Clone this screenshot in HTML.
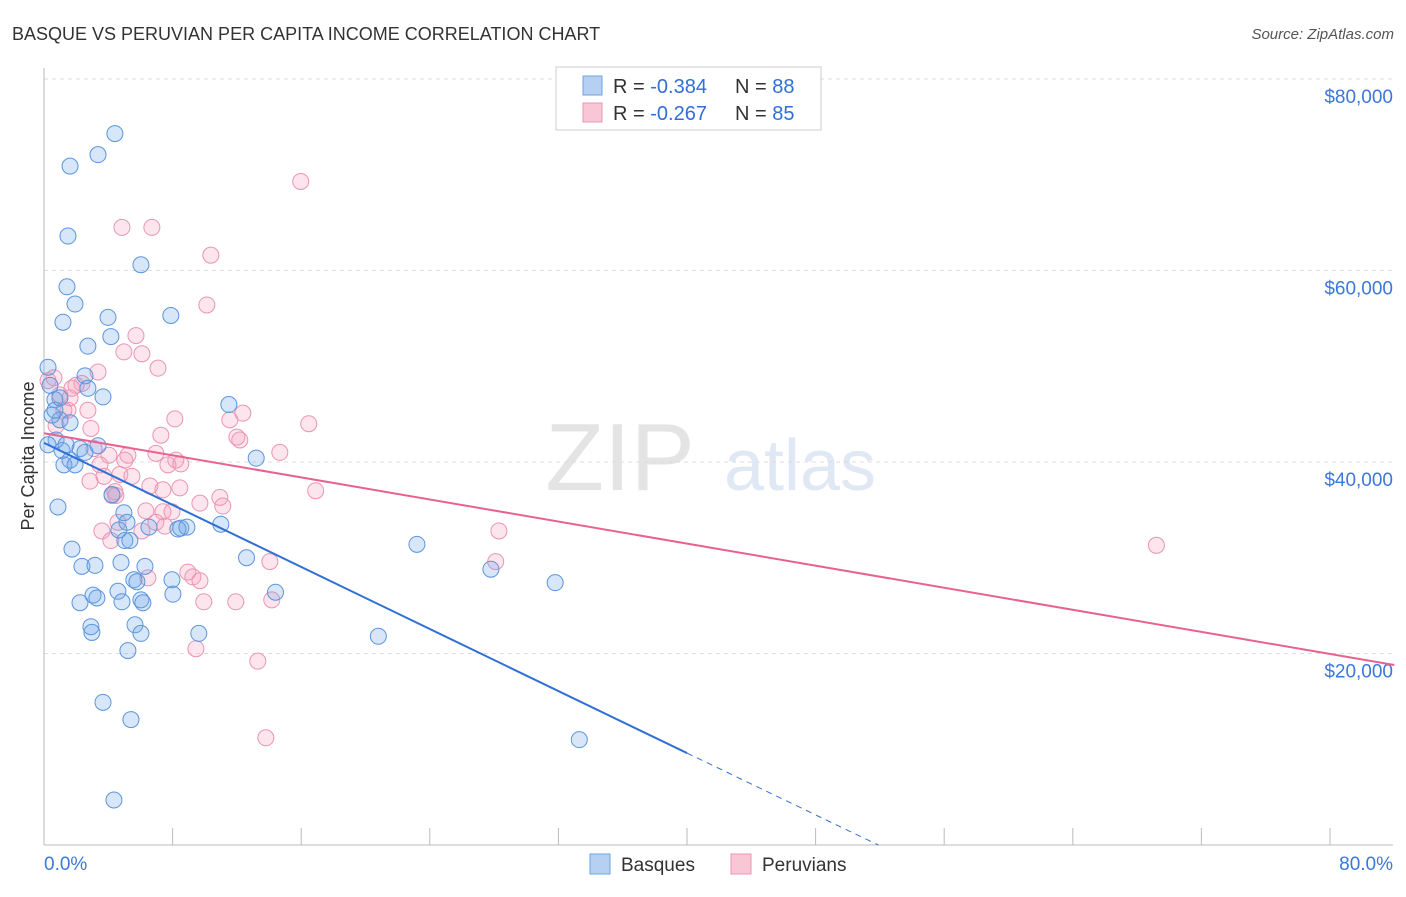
<!DOCTYPE html>
<html><head><meta charset="utf-8"><style>
body{margin:0;background:#fff;font-family:"Liberation Sans",sans-serif;}
svg text{font-family:"Liberation Sans",sans-serif;}
</style></head><body>
<svg id="chart" width="1406" height="892" xmlns="http://www.w3.org/2000/svg">
<text x="12" y="40" font-size="18" fill="#333">BASQUE VS PERUVIAN PER CAPITA INCOME CORRELATION CHART</text>
<text x="1394" y="39" font-size="15" fill="#555" text-anchor="end" font-style="italic">Source: ZipAtlas.com</text>
<text x="620" y="490" font-size="96" fill="#e4e4e4" font-family="Liberation Serif" text-anchor="middle">ZIP</text>
<text x="800" y="490" font-size="72" fill="#dfe8f4" text-anchor="middle">atlas</text>
<g id="grid"></g>
<g id="axes"></g>
<g id="points"></g>
<g id="lines"></g>
<text x="34" y="456" font-size="18" fill="#333" text-anchor="middle" transform="rotate(-90 34 456)">Per Capita Income</text>
<g>
<rect x="556" y="67" width="265" height="63" fill="#fff" stroke="#ccc"/>
<rect x="583" y="76" width="19" height="19" fill="#b5d0f2" stroke="#6fa3e0"/>
<rect x="583" y="103" width="19" height="19" fill="#f9c6d6" stroke="#ec94b2"/>
<text x="613" y="93" font-size="20" fill="#333">R = <tspan fill="#2f6fd6">-0.384</tspan></text>
<text x="735" y="93" font-size="20" fill="#333">N = <tspan fill="#2f6fd6">88</tspan></text>
<text x="613" y="120" font-size="20" fill="#333">R = <tspan fill="#2f6fd6">-0.267</tspan></text>
<text x="735" y="120" font-size="20" fill="#333">N = <tspan fill="#2f6fd6">85</tspan></text>
</g>
<g>
<rect x="590" y="854" width="20" height="20" fill="#b5d0f2" stroke="#6fa3e0"/>
<text x="621" y="871" font-size="19" fill="#333">Basques</text>
<rect x="731" y="854" width="20" height="20" fill="#f9c6d6" stroke="#ec94b2"/>
<text x="762" y="871" font-size="19" fill="#333">Peruvians</text>
</g>
</svg>
<script>
const yTicks=[20,40,60,80];
const yTickLabels=["$20,000","$40,000","$60,000","$80,000"];
const xTicks=[0,8,16,24,32,40,48,56,64,72,80];
const xEndLabels=["0.0%","80.0%"];
const basqueX=[4.41,3.36,1.62,1.49,6.03,1.43,1.93,7.89,1.18,3.98,4.16,2.73,0.25,3.67,2.55,2.73,11.5,0.37,0.68,0.99,1.62,0.75,0.25,1.12,2.24,3.36,2.55,1.62,1.24,1.93,13.2,4.23,4.97,5.16,4.66,6.53,8.51,8.89,11.0,0.87,1.74,5.03,5.34,2.36,3.17,4.79,6.28,12.6,23.2,27.8,31.8,5.59,5.78,7.96,3.05,3.29,4.60,2.24,4.85,6.03,6.15,8.02,14.4,2.92,2.98,5.66,6.03,9.63,20.8,5.22,3.67,5.41,33.3,4.35,0.50,0.68,1.37,8.33,0.99];
const basqueY=[74.3,72.1,70.9,63.6,60.6,58.3,56.5,55.3,54.6,55.1,53.1,52.1,49.9,46.8,49.0,47.7,46.0,48.0,46.5,44.4,44.1,42.3,41.8,41.2,41.4,41.7,41.0,40.2,39.7,39.7,40.4,36.6,34.7,33.7,32.9,33.2,33.1,33.2,33.5,35.3,30.9,31.8,31.8,29.1,29.2,29.5,29.1,30.0,31.4,28.8,27.4,27.7,27.5,27.7,26.1,25.8,26.5,25.3,25.4,25.6,25.3,26.2,26.4,22.8,22.2,23.0,22.1,22.1,21.8,20.3,14.9,13.1,11.0,4.7,44.9,45.4,41.8,33.0,46.7];
const peruX=[15.97,4.85,6.71,10.38,10.13,5.72,4.97,6.09,7.09,0.62,3.36,2.36,1.99,0.99,1.49,1.62,2.73,8.14,11.56,12.37,16.47,12.0,12.18,14.67,2.92,3.11,4.04,5.22,7.27,8.2,6.96,7.71,8.51,3.48,4.72,5.47,3.73,4.41,4.47,2.86,6.59,8.45,7.40,10.94,11.12,16.9,9.70,6.34,7.40,7.96,6.96,4.60,3.60,4.16,7.52,28.3,28.1,14.05,8.95,9.26,9.70,6.46,9.94,14.17,11.93,9.45,13.3,13.8,69.2,0.25,1.24,0.75,1.74,4.23,5.03,6.09];
const peruY=[69.3,64.5,64.5,61.6,56.4,53.2,51.5,51.3,49.8,48.8,49.4,48.2,48.0,47.0,45.4,46.7,45.4,44.5,44.4,45.1,44.0,42.6,42.3,41.0,43.5,41.4,40.7,40.7,42.8,40.2,40.9,39.7,39.8,39.7,38.7,38.5,38.5,36.9,36.5,38.0,37.5,37.3,37.1,36.3,35.4,37.0,35.7,34.9,34.8,34.8,33.7,33.7,32.8,31.8,33.3,32.8,29.6,29.6,28.5,28.0,27.6,27.9,25.4,25.6,25.4,20.5,19.2,11.2,31.3,48.5,45.4,43.8,47.7,36.5,40.2,32.8];
const basqueTrendX=[0,40,51.9];
const basqueTrendY=[42.0,9.6,0];
const peruTrendX=[0,84];
const peruTrendY=[43.0,18.8];
const NS="http://www.w3.org/2000/svg";
const xs=v=>44+v*(1330-44)/80;
const ys=v=>845-v*(845-79)/80;
function mk(tag,attrs,parent){const e=document.createElementNS(NS,tag);for(const k in attrs)e.setAttribute(k,attrs[k]);parent.appendChild(e);return e;}
const grid=document.getElementById('grid'),axes=document.getElementById('axes'),pts=document.getElementById('points'),lines=document.getElementById('lines');
yTicks.forEach((t,i)=>{
 const l=mk('line',{x1:44,x2:1393,y1:ys(t),y2:ys(t),stroke:'#ddd','stroke-dasharray':'4,4'},grid);
 
 
 const tx=mk('text',{x:1393,y:ys(t)+24,'font-size':19,fill:'#3b78d8','text-anchor':'end'},axes);
 tx.textContent=yTickLabels[i];
 
 
});
const ax=mk('line',{x1:44,x2:1393,y1:845,y2:845,stroke:'#bbb'},axes);


const ay=mk('line',{x1:44,x2:44,y1:68,y2:845,stroke:'#bbb'},axes);


xTicks.forEach(t=>{
 const l=mk('line',{x1:xs(t),x2:xs(t),y1:828,y2:845,stroke:'#bbb'},axes);
 
 
});
const xl0=mk('text',{x:44,y:870,'font-size':19,fill:'#3b78d8'},axes);
xl0.textContent=xEndLabels[0];


const xl1=mk('text',{x:1393,y:870,'font-size':19,fill:'#3b78d8','text-anchor':'end'},axes);
xl1.textContent=xEndLabels[1];


peruX.forEach((x,i)=>{
 const c=mk('circle',{cx:xs(x),cy:ys(peruY[i]),r:8,fill:'rgba(244,160,190,0.28)',stroke:'#ec94b2','stroke-width':1},pts);
 
 
});
basqueX.forEach((x,i)=>{
 const c=mk('circle',{cx:xs(x),cy:ys(basqueY[i]),r:8,fill:'rgba(110,165,230,0.28)',stroke:'#5b95dd','stroke-width':1},pts);
 
 
});
const bl=mk('line',{x1:xs(basqueTrendX[0]),y1:ys(basqueTrendY[0]),x2:xs(basqueTrendX[1]),y2:ys(basqueTrendY[1]),stroke:'#2f6fd6','stroke-width':2},lines);


const bd=mk('line',{x1:xs(basqueTrendX[1]),y1:ys(basqueTrendY[1]),x2:xs(basqueTrendX[2]),y2:ys(basqueTrendY[2]),stroke:'#2f6fd6','stroke-width':1,'stroke-dasharray':'6,5'},lines);


const pl=mk('line',{x1:xs(peruTrendX[0]),y1:ys(peruTrendY[0]),x2:xs(peruTrendX[1]),y2:ys(peruTrendY[1]),stroke:'#e8628f','stroke-width':2},lines);


</script>
</body></html>
